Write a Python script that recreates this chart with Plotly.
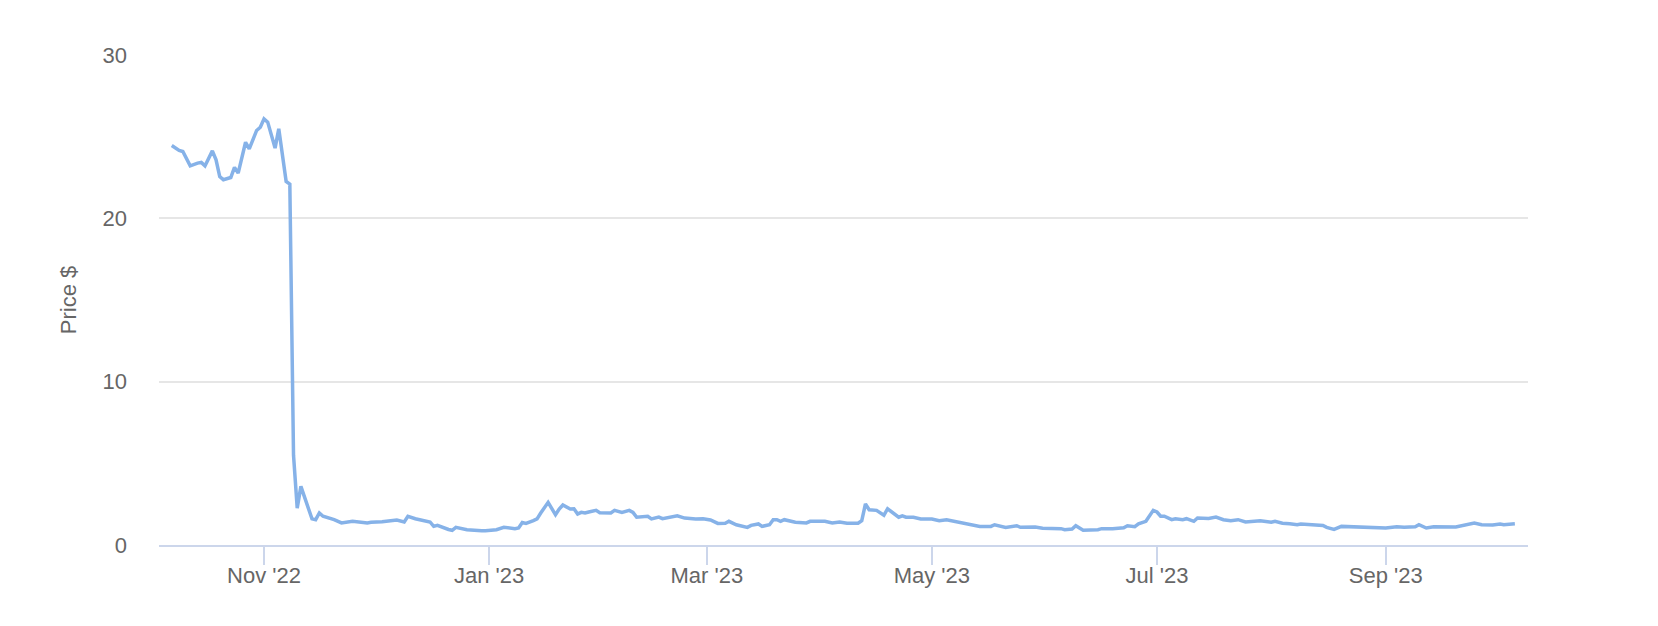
import plotly.graph_objects as go

dates = [
    "2022-10-07", "2022-10-09", "2022-10-10", "2022-10-12", "2022-10-14", "2022-10-15",
    "2022-10-16", "2022-10-18", "2022-10-19", "2022-10-20", "2022-10-21", "2022-10-23",
    "2022-10-24", "2022-10-25", "2022-10-27", "2022-10-28", "2022-10-30", "2022-10-31",
    "2022-11-01", "2022-11-02", "2022-11-04", "2022-11-05", "2022-11-07", "2022-11-08",
    "2022-11-09", "2022-11-10", "2022-11-11", "2022-11-12", "2022-11-13", "2022-11-14",
    "2022-11-15", "2022-11-16", "2022-11-17", "2022-11-18", "2022-11-19", "2022-11-20",
    "2022-11-22", "2022-11-25", "2022-11-29", "2022-11-30", "2022-12-03", "2022-12-06",
    "2022-12-07", "2022-12-09", "2022-12-10", "2022-12-12", "2022-12-15", "2022-12-16",
    "2022-12-17", "2022-12-18", "2022-12-21", "2022-12-22", "2022-12-23", "2022-12-26",
    "2022-12-30", "2022-12-31", "2023-01-03", "2023-01-05", "2023-01-08", "2023-01-09",
    "2023-01-10", "2023-01-11", "2023-01-13", "2023-01-14", "2023-01-15", "2023-01-17",
    "2023-01-19", "2023-01-20", "2023-01-21", "2023-01-22", "2023-01-23", "2023-01-24",
    "2023-01-25", "2023-01-26", "2023-01-27", "2023-01-28", "2023-01-29", "2023-01-30",
    "2023-01-31", "2023-02-01", "2023-02-03", "2023-02-04", "2023-02-05", "2023-02-06",
    "2023-02-08", "2023-02-09", "2023-02-10", "2023-02-13", "2023-02-14", "2023-02-16",
    "2023-02-17", "2023-02-19", "2023-02-21", "2023-02-23", "2023-02-26", "2023-02-28",
    "2023-03-02", "2023-03-04", "2023-03-06", "2023-03-07", "2023-03-09", "2023-03-12",
    "2023-03-13", "2023-03-15", "2023-03-16", "2023-03-18", "2023-03-19", "2023-03-20",
    "2023-03-21", "2023-03-22", "2023-03-25", "2023-03-28", "2023-03-29", "2023-04-02",
    "2023-04-04", "2023-04-06", "2023-04-08", "2023-04-11", "2023-04-12", "2023-04-13",
    "2023-04-14", "2023-04-16", "2023-04-17", "2023-04-18", "2023-04-19", "2023-04-21",
    "2023-04-22", "2023-04-23", "2023-04-24", "2023-04-26", "2023-04-28", "2023-05-01",
    "2023-05-03", "2023-05-05", "2023-05-07", "2023-05-10", "2023-05-12", "2023-05-14",
    "2023-05-17", "2023-05-18", "2023-05-21", "2023-05-24", "2023-05-25", "2023-05-29",
    "2023-05-31", "2023-06-04", "2023-06-05", "2023-06-06", "2023-06-08", "2023-06-09",
    "2023-06-11", "2023-06-15", "2023-06-16", "2023-06-19", "2023-06-22", "2023-06-23",
    "2023-06-25", "2023-06-26", "2023-06-28", "2023-06-30", "2023-07-01", "2023-07-02",
    "2023-07-03", "2023-07-05", "2023-07-06", "2023-07-08", "2023-07-09", "2023-07-11",
    "2023-07-12", "2023-07-15", "2023-07-17", "2023-07-19", "2023-07-21", "2023-07-23",
    "2023-07-25", "2023-07-29", "2023-08-01", "2023-08-02", "2023-08-04", "2023-08-06",
    "2023-08-08", "2023-08-09", "2023-08-12", "2023-08-15", "2023-08-16", "2023-08-18",
    "2023-08-20", "2023-08-22", "2023-08-23", "2023-08-26", "2023-08-29", "2023-09-01",
    "2023-09-04", "2023-09-06", "2023-09-09", "2023-09-10", "2023-09-12", "2023-09-14",
    "2023-09-20", "2023-09-22", "2023-09-25", "2023-09-27", "2023-09-30", "2023-10-02",
    "2023-10-03", "2023-10-06",
]

prices = [
    24.46, 24.16, 24.09, 23.21, 23.38, 23.42,
    23.21, 24.13, 23.58, 22.56, 22.36, 22.50,
    23.12, 22.77, 24.66, 24.25, 25.38, 25.58,
    26.09, 25.89, 24.30, 25.48, 22.26, 22.09,
    5.50, 2.26, 3.59, 2.88, 2.30, 1.60,
    1.55, 1.96, 1.76, 1.70, 1.62, 1.55,
    1.35, 1.45, 1.35, 1.39, 1.42, 1.49,
    1.53, 1.41, 1.76, 1.61, 1.45, 1.41,
    1.14, 1.20, 0.95, 0.90, 1.08, 0.94,
    0.88, 0.88, 0.94, 1.08, 1.00, 1.04,
    1.38, 1.32, 1.49, 1.60, 1.96, 2.61,
    1.85, 2.20, 2.45, 2.30, 2.20, 2.22,
    1.90, 2.00, 1.96, 2.02, 2.06, 2.12,
    1.98, 1.96, 1.96, 2.12, 2.06, 2.00,
    2.12, 2.00, 1.70, 1.76, 1.60, 1.71,
    1.61, 1.70, 1.79, 1.65, 1.59, 1.61,
    1.53, 1.32, 1.33, 1.45, 1.24, 1.08,
    1.20, 1.29, 1.14, 1.24, 1.55, 1.55,
    1.45, 1.55, 1.39, 1.35, 1.45, 1.45,
    1.35, 1.41, 1.33, 1.33, 1.49, 2.51,
    2.16, 2.12, 2.00, 1.82, 2.22, 1.85,
    1.70, 1.79, 1.70, 1.70, 1.59, 1.59,
    1.49, 1.55, 1.45, 1.35, 1.20, 1.14,
    1.14, 1.24, 1.08, 1.18, 1.08, 1.10,
    1.02, 1.04, 1.00, 0.94, 0.98, 1.18,
    0.90, 0.94, 1.00, 1.00, 1.06, 1.18,
    1.12, 1.29, 1.45, 2.12, 2.02, 1.76,
    1.76, 1.55, 1.61, 1.55, 1.61, 1.45,
    1.65, 1.63, 1.71, 1.55, 1.49, 1.55,
    1.41, 1.49, 1.39, 1.45, 1.33, 1.30,
    1.24, 1.29, 1.22, 1.20, 1.08, 0.96,
    1.14, 1.12, 1.16, 1.08, 1.08, 1.04,
    1.12, 1.08, 1.12, 1.24, 1.04, 1.12,
    1.10, 1.20, 1.35, 1.24, 1.22, 1.29,
    1.24, 1.30,
]

y_ticks = [0, 10, 20, 30]
y_title = "Price $"

fig = go.Figure()
fig.add_trace(go.Scatter(
    x=dates, y=prices, mode="lines",
    line=dict(color="#86b2e8", width=3.5),
    hovertemplate="%{x|%b %d, %Y}<br>$%{y:.2f}<extra></extra>",
))

font_family = "Liberation Sans, Arial, Helvetica, sans-serif"

fig.update_layout(
    width=1658, height=626,
    margin=dict(l=151, r=138, t=47, b=89),
    paper_bgcolor="white", plot_bgcolor="white",
    showlegend=False,
    font=dict(family=font_family, size=22, color="#666666"),
    xaxis=dict(
        type="date",
        range=["2022-10-03 13:00", "2023-10-09 13:30"],
        tick0="2022-11-01", dtick="M2", tickformat="%b '%y",
        showgrid=False, zeroline=False,
        showline=True, linecolor="#ccd6eb", linewidth=2,
        ticks="outside", ticklen=18, tickwidth=2, tickcolor="#ccd6eb",
        ticklabelstandoff=-8,
        tickfont=dict(size=22, color="#666666"),
        fixedrange=True,
    ),
    yaxis=dict(
        range=[0, 30], tickvals=y_ticks,
        showgrid=True, gridcolor="#e6e6e6", gridwidth=1.5,
        zeroline=False, showline=False,
        ticks="", ticklabelstandoff=31,
        tickfont=dict(size=22, color="#666666"),
        title=dict(text=y_title, standoff=19,
                   font=dict(size=22, color="#666666", family=font_family)),
        fixedrange=True,
    ),
)

fig.write_html("out.html")
